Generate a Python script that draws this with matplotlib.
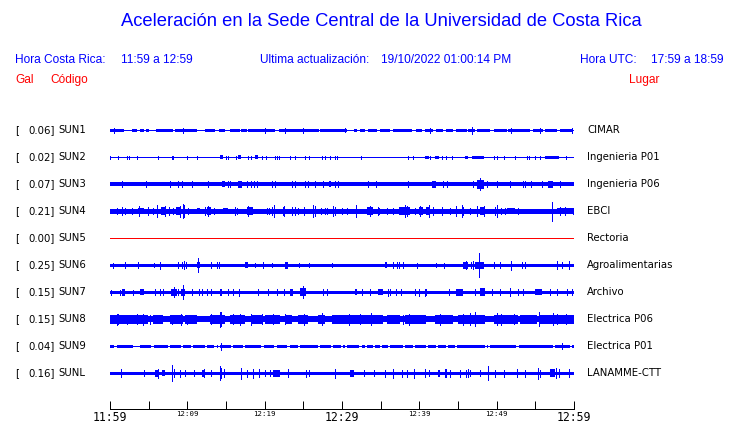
import matplotlib
matplotlib.use("Agg")
import matplotlib.pyplot as plt

# tamano de la figura en pixeles
W, H = 740, 423

codes = ["SUN1", "SUN2", "SUN3", "SUN4", "SUN5", "SUN6", "SUN7", "SUN8", "SUN9", "SUNL"]
places = ["CIMAR", "Ingenieria P01", "Ingenieria P06", "EBCI", "Rectoria",
          "Agroalimentarias", "Archivo", "Electrica P06", "Electrica P01", "LANAMME-CTT"]
peak_gal = [0.06, 0.02, 0.07, 0.21, 0.00, 0.25, 0.15, 0.15, 0.04, 0.16]

# espesor del ruido de fondo (px) por estacion
base_px = [1, 1, 3.5, 3.3, 1, 3, 3, 5.5, 3, 3]

tick_minutes = list(range(0, 61, 5))
tick_labels = ["11:59", "", "12:09", "", "12:19", "", "12:29", "", "12:39", "", "12:49", "", "12:59"]
big_labels = ["11:59", "12:29", "12:59"]

# tramos con mas ruido: (min inicio, min fin, media altura px)
blocks_sun1 = [(0.0, 1.85, 1.5), (2.8, 3.45, 1.5), (3.9, 4.4, 1.5), (4.7, 5.0, 1.5), (6.0, 8.2, 1.5),
               (8.4, 11.2, 1.5), (12.3, 13.6, 1.5), (14.1, 14.9, 1.5), (15.5, 16.8, 1.5), (17.0, 17.7, 1.5),
               (17.9, 21.4, 1.5), (21.8, 23.6, 1.5), (23.7, 27.0, 1.5), (27.2, 28.0, 1.5), (28.1, 30.6, 1.5),
               (31.5, 31.9, 1.5), (32.3, 33.0, 1.5), (33.4, 34.5, 1.5), (34.9, 36.2, 1.5), (36.6, 39.0, 1.5),
               (39.6, 40.3, 1.5), (40.7, 41.8, 1.5), (42.2, 43.1, 1.5), (43.5, 44.4, 1.5), (44.8, 46.1, 1.5),
               (46.3, 47.2, 1.5), (47.4, 49.1, 1.5), (49.6, 51.3, 1.5), (51.5, 54.3, 1.5), (54.7, 56.0, 1.5),
               (56.2, 57.8, 1.5), (58.2, 59.9, 1.5)]
spikes_sun1 = [(0.5, 2.5), (9.5, 2.5), (20.0, 2.5), (22.6, 2.5), (25.0, 2.5), (30.4, 2), (41.4, 2.5),
               (46.8, 3.5), (51.9, 2.5), (55.6, 2.5), (59.7, 2.5)]

blocks_sun2 = [(14.2, 14.65, 2), (16.6, 17.0, 2), (18.75, 19.1, 2), (40.7, 41.2, 1.5), (42.0, 42.5, 1.5),
               (45.9, 46.3, 1.5), (46.8, 48.3, 1.5), (56.2, 58.0, 1.5)]
spikes_sun2 = [(0.0, 1.5), (1.07, 1.5), (2.24, 1.5), (2.45, 1.5), (3.53, 1.5), (6.25, 1.5), (7.97, 1.5),
               (8.19, 1.5), (10.0, 1.5), (11.3, 1.5), (14.95, 1.5), (15.3, 1.5), (16.25, 1.5), (17.9, 1.5),
               (18.2, 1.5), (19.6, 1.5), (20.2, 1.5), (21.3, 1.5), (21.55, 1.5), (21.8, 1.5), (23.3, 1.5),
               (23.9, 1.5), (25.2, 1.5), (25.7, 1.5), (27.4, 1.5), (27.8, 1.5), (28.4, 1.5), (29.1, 1.5),
               (29.3, 1.5), (32.4, 1.5), (38.5, 1.5), (39.2, 1.5), (41.4, 1.5), (42.9, 1.5), (43.5, 1.5),
               (44.2, 1.5), (49.6, 1.5), (50.0, 1.5), (50.9, 1.5), (52.4, 1.5), (53.9, 1.5), (54.2, 1.5),
               (55.0, 1.5), (55.6, 1.5), (59.0, 1.5)]

blocks_sun3 = [(14.5, 14.9, 3), (16.5, 17.1, 3.5), (28.3, 28.6, 3), (41.7, 42.2, 3.5), (47.4, 48.3, 4.5),
               (56.7, 57.3, 3.5)]
spikes_sun3 = [(1.5, 3), (4.7, 3), (7.8, 3), (8.8, 3), (9.3, 3), (10.55, 3), (12.7, 3), (15.2, 3),
               (15.5, 3), (17.7, 3), (18.2, 3), (18.6, 3), (19.05, 3), (20.9, 3), (21.4, 3), (23.5, 3),
               (23.9, 3), (25.2, 3), (25.6, 3), (26.5, 3), (27.6, 3), (29.1, 3), (29.5, 3), (33.4, 3),
               (34.4, 3), (38.5, 3), (43.1, 3), (43.6, 3), (46.9, 3), (47.8, 6), (48.7, 3), (50.0, 3),
               (51.7, 3), (53.4, 3), (53.7, 3), (54.5, 3), (55.8, 3), (58.2, 3)]

blocks_sun4 = [(3.66, 4.44, 3), (6.6, 7.2, 4), (8.5, 9.2, 4), (11.2, 11.6, 3), (12.5, 13.1, 4),
               (14.65, 15.3, 3), (17.7, 18.5, 4), (33.2, 34.05, 4), (37.4, 38.8, 4), (39.9, 40.5, 4),
               (40.9, 41.4, 4), (47.8, 48.5, 4), (51.3, 52.4, 3), (57.8, 59.9, 3)]
spikes_sun4 = [(0.86, 3), (1.5, 4), (1.94, 3), (2.8, 3), (3.79, 5), (4.95, 4), (5.6, 3), (6.03, 6),
               (7.1, 5), (7.62, 4), (8.19, 3), (9.05, 5.5), (9.39, 7), (9.6, 6), (10.1, 3), (12.3, 4),
               (12.7, 5), (13.4, 3), (16.2, 4), (16.46, 3), (17.9, 5), (20.25, 3), (20.5, 3), (20.9, 4),
               (21.25, 6), (22.4, 4), (22.5, 5), (23.5, 4), (23.9, 4), (24.3, 3), (25.1, 4), (26.3, 6),
               (26.5, 5), (27.3, 3), (27.8, 3), (28.0, 3), (28.9, 5), (29.1, 4), (30.0, 3), (30.6, 3),
               (31.8, 6), (33.6, 5), (34.7, 4), (34.8, 3), (35.8, 3), (36.6, 3), (38.1, 6), (38.4, 5),
               (39.4, 3), (40.1, 5), (41.2, 6), (41.8, 4), (42.9, 4), (44.0, 3), (44.7, 5), (45.5, 6),
               (45.7, 4), (46.5, 3), (47.4, 5), (48.3, 5), (49.8, 4), (50.1, 6), (50.6, 3), (51.1, 3),
               (52.8, 3), (57.2, 9.5), (58.2, 4), (58.8, 4), (59.9, 3)]

blocks_sun5 = []
spikes_sun5 = []

blocks_sun6 = [(11.2, 11.7, 3), (17.45, 17.8, 3), (22.6, 23.05, 3.5), (35.5, 35.8, 3), (45.6, 46.3, 3.5),
               (47.2, 48.3, 3.5)]
spikes_sun6 = [(0.43, 2.5), (2.0, 3), (3.66, 3), (5.7, 2), (6.46, 3.5), (8.8, 3), (9.3, 3), (9.56, 4),
               (9.82, 3), (11.4, 7), (13.0, 3), (13.8, 3), (14.1, 3), (18.75, 2), (19.8, 3), (20.9, 2),
               (24.5, 2), (25.7, 2), (28.7, 2), (36.6, 3), (37.1, 3), (37.4, 3), (37.9, 3), (39.7, 2.5),
               (42.2, 2), (43.2, 2.5), (46.0, 4), (46.7, 3), (46.9, 4), (47.75, 12), (49.6, 3), (50.4, 3),
               (51.9, 4.5), (53.3, 3), (53.7, 3), (57.8, 4), (58.5, 3), (59.3, 4)]

blocks_sun7 = [(1.5, 1.94, 3.5), (3.9, 4.44, 3), (7.9, 8.6, 3.5), (9.2, 9.7, 3.5), (14.2, 14.5, 3.5),
               (23.3, 23.6, 3.5), (24.6, 25.4, 4), (31.7, 32.0, 3), (34.7, 35.3, 3), (44.8, 45.7, 3.5),
               (47.8, 48.5, 4), (55.0, 55.8, 3)]
spikes_sun7 = [(0.13, 2.5), (1.29, 2.5), (3.0, 2.5), (5.8, 3), (6.5, 3), (6.9, 3), (8.3, 5), (8.8, 3),
               (9.5, 7), (10.55, 3), (11.5, 3), (11.85, 3), (12.5, 3), (13.1, 3), (15.2, 3), (15.9, 3),
               (16.7, 3.5), (19.2, 3), (20.4, 3), (21.55, 3), (22.5, 3), (25.0, 6), (27.6, 3), (28.0, 3),
               (32.6, 3), (33.6, 3), (36.0, 3.5), (36.2, 3), (37.0, 3), (37.6, 3), (39.4, 3), (39.9, 3.5),
               (40.7, 3.5), (40.9, 3), (43.8, 3), (47.2, 3), (49.4, 3), (50.4, 3), (51.7, 4), (52.8, 3),
               (53.4, 3), (56.9, 3), (57.8, 3), (59.1, 3), (59.7, 3)]

blocks_sun8 = [(0.0, 4.95, 4.5), (5.6, 6.9, 4.5), (7.75, 9.5, 4.5), (9.7, 11.2, 4.5), (12.9, 14.9, 4.5),
               (15.5, 17.45, 4.5), (18.3, 19.6, 4.5), (20.0, 22.0, 4.5), (22.6, 23.5, 4.5), (24.35, 25.6, 4.5),
               (26.9, 27.8, 4.5), (28.65, 35.3, 4.5), (35.8, 37.5, 4.5), (38.1, 40.9, 4.5), (42.0, 44.4, 4.5),
               (45.0, 48.5, 4.5), (49.6, 52.8, 4.5), (53.0, 55.2, 4.5), (55.6, 60.0, 4.5)]
spikes_sun8 = [(0.86, 5.5), (1.07, 5), (2.15, 4.5), (3.44, 5), (4.3, 5.5), (5.17, 4.5), (7.97, 4.5),
               (9.2, 5.5), (9.9, 4.5), (13.1, 5), (14.2, 7.5), (14.4, 7), (15.95, 5), (16.8, 5.5), (18.2, 5.5),
               (19.6, 5), (21.1, 5), (22.6, 5), (25.1, 5.5), (27.4, 6), (30.95, 5.5), (32.3, 5), (33.8, 6),
               (37.9, 4.5), (38.7, 5.5), (42.7, 5.5), (45.7, 5.5), (46.5, 6), (47.2, 7), (50.0, 6),
               (50.6, 5.5), (52.2, 5), (55.5, 7), (57.3, 6), (57.8, 5), (59.0, 5)]

blocks_sun9 = []
spikes_sun9 = [(14.4, 3.5), (58.5, 3)]
# huecos finos en la traza de SUN9 (minutos)
gaps_sun9 = [0.73, 3.1, 3.3, 3.5, 3.7, 5.5, 7.6, 9.35, 10.6, 12.4, 13.65, 14.1, 15.8, 17.3, 19.7, 21.4,
             23.1, 24.4, 27.0, 28.7, 30.0, 30.5, 32.4, 33.1, 34.1, 35.0, 36.1, 38.0, 39.3, 41.0, 42.3,
             43.6, 44.7, 48.6, 49.0, 52.7, 57.4, 59.6]

blocks_sunl = [(5.8, 6.25, 3.5), (6.7, 7.1, 3), (11.85, 12.3, 3.5), (21.1, 22.0, 3.5), (31.0, 31.5, 3.5),
               (42.4, 42.7, 3.5), (56.9, 57.5, 4)]
spikes_sunl = [(1.42, 4), (4.44, 3), (6.16, 4.5), (7.97, 8), (8.3, 4), (9.05, 3.5), (9.7, 3), (10.9, 3),
               (12.1, 4), (13.05, 3), (14.2, 7), (14.4, 5), (14.7, 4), (16.9, 5.5), (17.0, 4), (17.7, 3.5),
               (18.5, 4.5), (19.3, 4), (20.0, 3), (20.7, 3), (23.05, 4), (25.4, 3.5), (25.7, 3), (29.1, 4.5),
               (32.8, 3), (34.2, 3), (35.6, 3.5), (36.55, 4.5), (37.7, 3.5), (38.4, 3.5), (39.3, 4.5),
               (40.7, 4), (41.2, 3), (43.3, 4), (43.5, 4), (44.0, 3.5), (45.3, 3.5), (46.0, 3.5), (46.3, 4),
               (46.6, 3), (47.85, 3), (48.9, 7), (49.8, 3.5), (50.9, 3.5), (52.6, 4), (53.7, 3.5),
               (55.3, 5.5), (55.6, 3.5), (57.7, 5), (58.0, 4), (59.3, 4)]

all_blocks = [blocks_sun1, blocks_sun2, blocks_sun3, blocks_sun4, blocks_sun5,
              blocks_sun6, blocks_sun7, blocks_sun8, blocks_sun9, blocks_sunl]
all_spikes = [spikes_sun1, spikes_sun2, spikes_sun3, spikes_sun4, spikes_sun5,
              spikes_sun6, spikes_sun7, spikes_sun8, spikes_sun9, spikes_sunl]

BLUE = "#0000ff"
RED = "#ff0000"
PX = 72.0 / 100  # puntos por pixel


def fx(x):
    return x / W


def fy(y):
    return 1 - y / H


fig = plt.figure(figsize=(W / 100, H / 100), dpi=100)

# encabezado
hdr = dict(family="Liberation Sans", color=BLUE, va="center")
fig.text(fx(381), fy(22), "Aceleración en la Sede Central de la Universidad de Costa Rica",
         fontsize=13.2, ha="center", **hdr)
fig.text(fx(15), fy(60), "Hora Costa Rica:", fontsize=8.6, ha="left", **hdr)
fig.text(fx(121), fy(60), "11:59 a 12:59", fontsize=8.6, ha="left", **hdr)
fig.text(fx(260), fy(60), "Ultima actualización:", fontsize=8.6, ha="left", **hdr)
fig.text(fx(381), fy(60), "19/10/2022 01:00:14 PM", fontsize=8.6, ha="left", **hdr)
fig.text(fx(580), fy(60), "Hora UTC:", fontsize=8.6, ha="left", **hdr)
fig.text(fx(724), fy(60), "17:59 a 18:59", fontsize=8.6, ha="right", **hdr)
red = dict(family="Liberation Sans", color=RED, va="center", fontsize=8.6)
fig.text(fx(15), fy(80), "Gal", ha="left", **red)
fig.text(fx(50), fy(80), "Código", ha="left", **red)
fig.text(fx(629), fy(80), "Lugar", ha="left", **red)

# trazas: eje y en pixeles de la figura
ax = fig.add_axes([fx(110), fy(386), fx(574) - fx(110), fy(117) - fy(386)])
ax.set_xlim(0, 60)
ax.set_ylim(386, 117)
ax.axis("off")

for i, code in enumerate(codes):
    yc = 130 + 27 * i
    col = RED if code == "SUN5" else BLUE
    ax.hlines(yc, 0, 60, color=col, lw=base_px[i] * PX, antialiased=False, zorder=2)
    if code == "SUN9":
        for g in gaps_sun9:
            ax.broken_barh([(g - 0.15, 0.3)], (yc - 2.5, 5), facecolor="white",
                           antialiased=False, zorder=3)
        ax.hlines(yc, 0, 60, color=col, lw=PX, antialiased=False, zorder=4)
    for t0, t1, h in all_blocks[i]:
        ax.broken_barh([(t0, t1 - t0)], (yc - h, 2 * h), facecolor=col, antialiased=False, zorder=1)
    for t, h in all_spikes[i]:
        ax.vlines(t, yc - h, yc + h, color=col, lw=PX, antialiased=False, zorder=5)

    lab = dict(family="DejaVu Sans", fontsize=7.3, va="center", color="black")
    fig.text(fx(15), fy(yc), "[", ha="left", **lab)
    fig.text(fx(55), fy(yc), "%.2f]" % peak_gal[i], ha="right", **lab)
    fig.text(fx(58), fy(yc), code, ha="left", **lab)
    fig.text(fx(587), fy(yc), places[i], ha="left", **lab)

# eje de tiempo
tax = fig.add_axes([fx(110), fy(409), fx(574) - fx(110), 0.001])
tax.set_xlim(0, 60)
tax.set_yticks([])
for s in ["top", "left", "right"]:
    tax.spines[s].set_visible(False)
tax.spines["bottom"].set_linewidth(PX)
tax.set_xticks(tick_minutes)
tax.set_xticklabels(tick_labels, family="DejaVu Sans Mono")
tax.tick_params(axis="x", direction="in", length=8 * PX, width=PX, pad=1.5)
for lbl in tax.get_xticklabels():
    lbl.set_fontsize(8.3 if lbl.get_text() in big_labels else 5.3)

fig.savefig("out.png", dpi=100)
